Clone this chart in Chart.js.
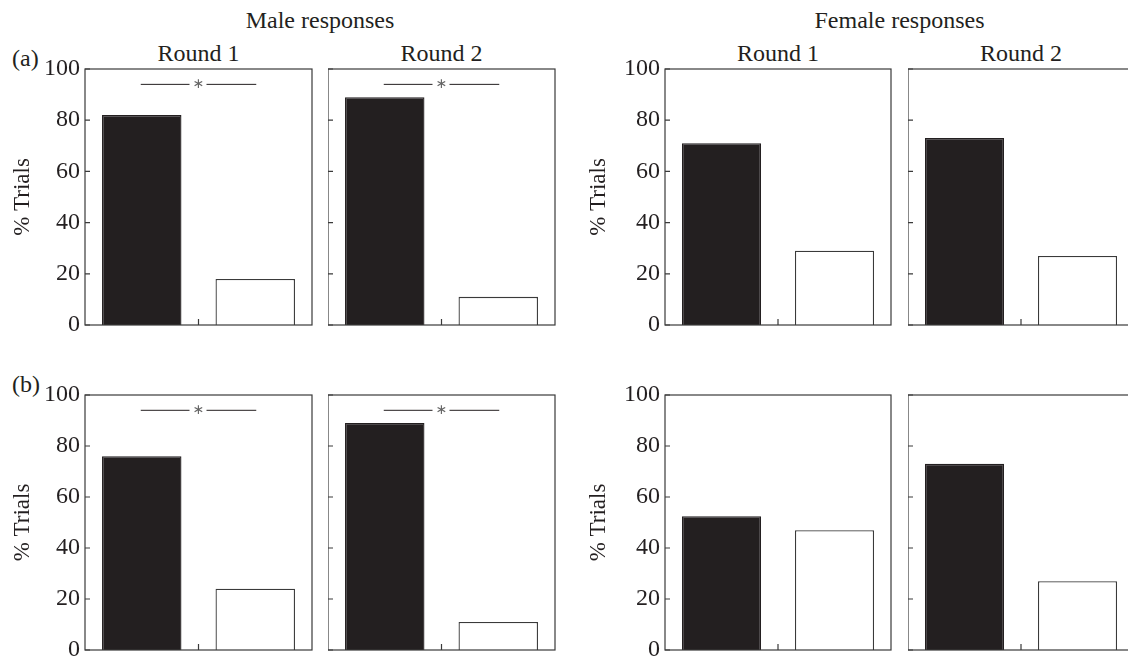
<!DOCTYPE html>
<html><head><meta charset="utf-8">
<script src="https://cdn.jsdelivr.net/npm/chart.js@4.4.1/dist/chart.umd.min.js"></script>
<style>
html,body{margin:0;padding:0;background:#fff;width:1128px;height:656px;overflow:hidden;position:relative;}
canvas{position:absolute;}
.t{position:absolute;font-family:"Liberation Serif",serif;font-size:24px;line-height:24px;color:#231f20;white-space:nowrap;}
.c{transform:translateX(-50%);}
</style></head><body>
<script>
// ---- data ----
const sexes = ['Male responses', 'Female responses'];
const rounds = ['Round 1', 'Round 2'];
const rowLabels = ['(a)', '(b)'];
const categories = ['Option 1', 'Option 2'];
const filledA = [82, 89, 71, 73];
const openA   = [18, 11, 29, 27];
const filledB = [76, 89, 52.5, 73];
const openB   = [24, 11, 47, 27];
const sigA = [true, true, false, false];
const sigB = [true, true, false, false];
const sigLevel = 94;
const yTicks = [0, 20, 40, 60, 80, 100];
const yTitle = '% Trials';

// ---- layout ----
const colLeft = [85, 328, 665, 908];
const colW = [227, 227, 226, 226];
const rowTop = [69, 395];
const rowH = [256, 255];
const axisW = 85;
const titlePad = [9, 0, 5, 0];
const ink = '#231f20';
const frameCol = '#3a3a3a';
const serif = '"Liberation Serif"';

Chart.defaults.font.family = serif;
Chart.defaults.font.size = 23;
Chart.defaults.color = ink;

function addText(txt, x, y, center) {
  const d = document.createElement('div');
  d.className = 't' + (center ? ' c' : '');
  d.textContent = txt;
  d.style.left = x + 'px';
  d.style.top = y + 'px';
  document.body.appendChild(d);
}
addText(sexes[0], (colLeft[0] + colLeft[1] + colW[1]) / 2, 8, true);
addText(sexes[1], (colLeft[2] + colLeft[3] + colW[3]) / 2, 8, true);
for (let c = 0; c < 4; c++) addText(rounds[c % 2], colLeft[c] + colW[c] / 2, 41, true);
addText(rowLabels[0], 12, 46, false);
addText(rowLabels[1], 12, 372, false);

const framePlugin = {
  id: 'frame',
  afterDatasetsDraw(chart, args, opts) {
    const {ctx, chartArea: a, scales: {x, y}} = chart;
    ctx.save();
    ctx.strokeStyle = frameCol;
    ctx.lineWidth = 1.2;
    ctx.strokeRect(a.left, a.top, a.right - a.left, a.bottom - a.top);
    ctx.beginPath();
    yTicks.forEach(v => {
      const py = y.getPixelForValue(v);
      ctx.moveTo(a.left, py); ctx.lineTo(a.left + 5, py);
    });
    const x0 = x.getPixelForValue(0), x1 = x.getPixelForValue(1);
    const mid = (x0 + x1) / 2;
    ctx.moveTo(mid, a.bottom); ctx.lineTo(mid, a.bottom - 6);
    ctx.stroke();
    if (opts.sig) {
      const ly = y.getPixelForValue(sigLevel);
      ctx.beginPath();
      ctx.lineWidth = 1;
      ctx.strokeStyle = ink;
      ctx.moveTo(x0 - 1, ly); ctx.lineTo(mid - 9, ly);
      ctx.moveTo(mid + 8, ly); ctx.lineTo(x1 + 1, ly);
      ctx.stroke();
      ctx.fillStyle = '#666';
      ctx.font = '14px "DejaVu Sans"';
      ctx.textAlign = 'center';
      ctx.textBaseline = 'middle';
      ctx.fillText('\u2217', mid, ly);
    }
    ctx.restore();
  }
};

const rows = [[filledA, openA, sigA], [filledB, openB, sigB]];
rows.forEach(([filled, open, sig], r) => {
  for (let c = 0; c < 4; c++) {
    const labelled = (c % 2 === 0);
    const w = labelled ? axisW : 0;
    const cv = document.createElement('canvas');
    cv.width = w + colW[c] + 10;
    cv.height = rowH[r] + 40;
    cv.style.left = (colLeft[c] - w) + 'px';
    cv.style.top = (rowTop[r] - 20) + 'px';
    document.body.appendChild(cv);
    new Chart(cv, {
      type: 'bar',
      data: {
        labels: categories,
        datasets: [{
          data: [filled[c], open[c]],
          backgroundColor: [ink, '#ffffff'],
          borderColor: [ink, frameCol],
          borderWidth: 1.3,
          barPercentage: 0.7,
          categoryPercentage: 1.0
        }]
      },
      options: {
        responsive: false,
        animation: false,
        events: [],
        layout: {padding: {top: 20, bottom: 20, left: 0, right: 10}},
        plugins: {
          legend: {display: false},
          tooltip: {enabled: false},
          frame: {sig: sig[c]}
        },
        scales: {
          x: {display: false},
          y: {
            min: 0, max: 100,
            afterFit: s => { s.width = w; },
            afterBuildTicks: s => { s.ticks = yTicks.map(v => ({value: v})); },
            border: {display: false},
            grid: {display: false, drawTicks: false},
            ticks: {
              display: labelled,
              padding: 5,
              color: ink,
              font: {family: serif, size: 24}
            },
            title: {
              display: labelled,
              text: yTitle,
              color: ink,
              font: {family: serif, size: 23},
              padding: {top: titlePad[c], bottom: 0}
            }
          }
        }
      },
      plugins: [framePlugin]
    });
  }
});
</script>
</body></html>
